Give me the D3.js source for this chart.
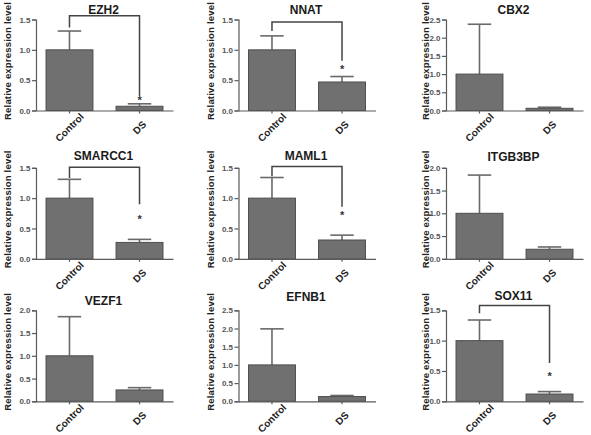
<!DOCTYPE html>
<html>
<head>
<meta charset="utf-8">
<script src="https://cdn.jsdelivr.net/npm/d3@7"></script>
<style>
  html, body { margin: 0; padding: 0; background: #fff; }
  svg { display: block; font-family: Arial, "Liberation Sans", sans-serif; }
</style>
</head>
<body>
<svg id="chart" width="591" height="435"></svg>
<script>
// ---- data ----
const genes = ["EZH2", "NNAT", "CBX2", "SMARCC1", "MAML1", "ITGB3BP", "VEZF1", "EFNB1", "SOX11"];
const groups = ["Control", "DS"];
const controlMean = [1.0, 1.0, 1.0, 1.0, 1.0, 1.0, 1.0, 1.0, 1.0];
const controlErr  = [0.31, 0.23, 1.37, 0.31, 0.34, 0.84, 0.86, 0.99, 0.34];
const dsMean      = [0.07, 0.47, 0.06, 0.27, 0.31, 0.21, 0.25, 0.13, 0.12];
const dsErr       = [0.04, 0.09, 0.03, 0.05, 0.08, 0.05, 0.05, 0.03, 0.04];
const yMax        = [1.5, 1.5, 2.5, 1.5, 1.5, 2.0, 2.0, 2.5, 1.5];
const significant = [true, true, false, true, true, false, false, false, true];
const bracketTop      = [1.56, 1.46, null, 1.51, 1.52, null, null, null, 1.58];
const bracketLeftEnd  = [1.37, 1.31, null, 1.33, 1.36, null, null, null, 1.45];
const bracketRightEnd = [0.24, 0.82, null, 0.90, 0.86, null, null, null, 0.63];
const starLevel       = [0.20, 0.72, null, 0.69, 0.76, null, null, null, 0.45];
const yLabel = "Relative expression level";

// ---- layout ----
const colAxisX = [36, 238.5, 446];
const colLabelX = [8, 211, 425.5];
const rowBottom = [110.5, 258.8, 401.3];
const titleBaseline = [[14, 14, 13.5], [160, 160, 161], [305, 301, 300]];
const plotH = 91;
const plotW = 137;

const svg = d3.select("#chart");
const barFill = "#707070", barStroke = "#4e4e4e", axisColor = "#5a5a5a";

genes.forEach((gene, i) => {
  const col = i % 3, row = Math.floor(i / 3);
  const ox = colAxisX[col], bottom = rowBottom[row];
  const g = svg.append("g").attr("transform", `translate(${ox},${bottom - plotH})`);

  const x = d3.scaleBand().domain(groups).range([0, plotW]).paddingInner(0.33).paddingOuter(0.143);
  const y = d3.scaleLinear().domain([0, yMax[i]]).range([plotH, 0]);

  const means = [controlMean[i], dsMean[i]];
  const errs = [controlErr[i], dsErr[i]];
  const recs = groups.map((k, j) => ({ k, m: means[j], e: errs[j] }));

  // error bars (upper only)
  const capW = x.bandwidth() * 0.5;
  recs.forEach(r => {
    const cx = x(r.k) + x.bandwidth() / 2;
    g.append("line").attr("x1", cx).attr("x2", cx)
      .attr("y1", y(r.m)).attr("y2", y(r.m + r.e))
      .attr("stroke", "#6a6a6a").attr("stroke-width", 1.6);
    g.append("line").attr("x1", cx - capW / 2).attr("x2", cx + capW / 2)
      .attr("y1", y(r.m + r.e)).attr("y2", y(r.m + r.e))
      .attr("stroke", "#6a6a6a").attr("stroke-width", 1.6);
  });

  // bars
  g.selectAll("rect.bar").data(recs).enter().append("rect")
    .attr("class", "bar")
    .attr("x", d => x(d.k))
    .attr("y", d => y(d.m))
    .attr("width", x.bandwidth())
    .attr("height", d => y(0) - y(d.m))
    .attr("fill", barFill).attr("stroke", barStroke).attr("stroke-width", 1);

  // y axis
  const ya = g.append("g").call(
    d3.axisLeft(y).tickValues(d3.range(0, yMax[i] + 0.001, 0.5))
      .tickFormat(d3.format(".1f")).tickSize(4).tickPadding(1.5));
  ya.select(".domain").attr("stroke", axisColor).attr("stroke-width", 1.2);
  ya.selectAll(".tick line").attr("stroke", axisColor).attr("stroke-width", 1.2);
  ya.selectAll(".tick text").attr("fill", "#555").attr("font-size", "8px").attr("font-weight", "bold")
    .attr("font-family", "Arial, 'Liberation Sans', sans-serif");

  // x axis
  const xa = g.append("g").attr("transform", `translate(0,${plotH})`)
    .call(d3.axisBottom(x).tickSize(3).tickSizeOuter(0).tickFormat(""));
  xa.select(".domain").attr("stroke", axisColor).attr("stroke-width", 1.2);
  xa.selectAll(".tick line").attr("stroke", axisColor).attr("stroke-width", 1.2);

  // x labels, rotated
  groups.forEach(k => {
    const cx = x(k) + x.bandwidth() / 2;
    g.append("text")
      .attr("transform", `translate(${cx},${plotH + 17}) rotate(-45)`)
      .attr("text-anchor", "middle").attr("dy", "0.35em")
      .attr("font-size", "10px").attr("font-weight", "bold").attr("fill", "#222")
      .text(k);
  });

  // title
  svg.append("text")
    .attr("x", ox + plotW / 2 - 1).attr("y", titleBaseline[row][col])
    .attr("text-anchor", "middle").attr("font-size", "12px").attr("font-weight", "bold").attr("fill", "#1a1a1a")
    .text(gene);

  // y label
  svg.append("text")
    .attr("transform", `translate(${colLabelX[col]},${bottom - plotH / 2 - 4}) rotate(-90)`)
    .attr("text-anchor", "middle").attr("dy", "0.35em")
    .attr("font-size", "9.5px").attr("font-weight", "bold").attr("fill", "#222")
    .attr("letter-spacing", "0.2px")
    .text(yLabel);

  // significance bracket
  if (significant[i]) {
    const xl = x("Control") + x.bandwidth() / 2, xr = x("DS") + x.bandwidth() / 2;
    const path = d3.path();
    path.moveTo(xl, y(bracketLeftEnd[i]));
    path.lineTo(xl, y(bracketTop[i]));
    path.lineTo(xr, y(bracketTop[i]));
    path.lineTo(xr, y(bracketRightEnd[i]));
    g.append("path").attr("d", path.toString()).attr("fill", "none")
      .attr("stroke", "#444").attr("stroke-width", 1.5);
    g.append("text").attr("x", xr).attr("y", y(starLevel[i]) + 6)
      .attr("text-anchor", "middle").attr("font-size", "11px").attr("font-weight", "bold").attr("fill", "#333")
      .text("*");
  }
});
</script>
</body>
</html>
